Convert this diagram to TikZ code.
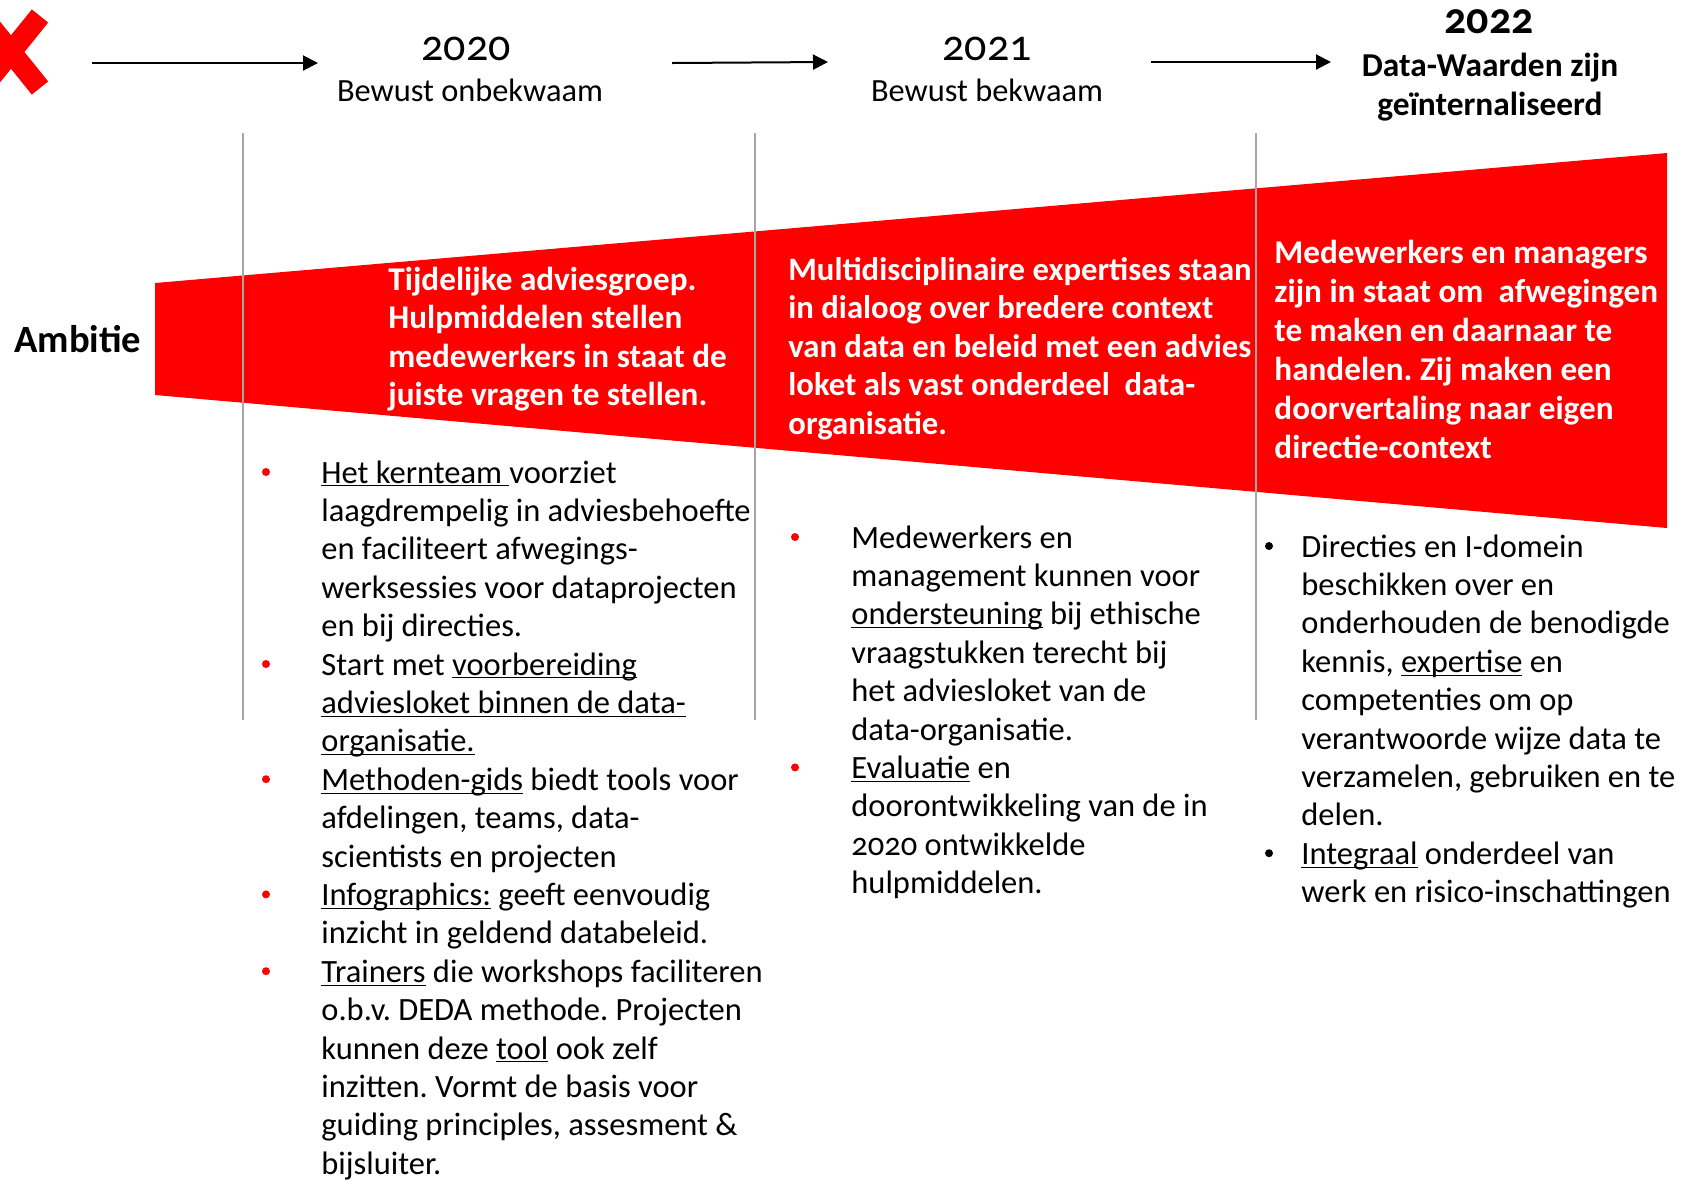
\documentclass[tikz,border=0pt]{standalone}
\usepackage{fontspec}
\setmainfont{Carlito}[Numbers=OldStyle]
\usetikzlibrary{arrows.meta}

\newcommand{\ulword}[1]{\underline{\smash{#1}}}
\frenchspacing

% multi-line nodes sit on the baseline of their last line
\tikzset{
  yearlabel/.style={anchor=base, inner sep=0pt, font=\fontsize{22}{26}\selectfont},
  phaselabel/.style={anchor=base, inner sep=0pt, align=center, font=\fontsize{16.2}{19.4}\selectfont},
  boxtext/.style={anchor=base west, inner sep=0pt, align=left, text=white, font=\bfseries\fontsize{16.6}{19.25}\selectfont},
  bodytext/.style={anchor=base west, inner sep=0pt, align=left, font=\fontsize{16.25}{19.2}\selectfont},
  divider/.style={draw=black!35, line width=0.75pt},
  steparrow/.style={line width=1pt, -{Triangle[length=7.5pt,width=7.5pt]}},
}

\begin{document}
\begin{tikzpicture}[x=0.5pt, y=-0.5pt]
\useasboundingbox (0,0) rectangle (1684,1180);

% ambitie band
\fill[red] (155,283) -- (1667,153) -- (1667,528) -- (155,395) -- cycle;

% period dividers
\foreach \x in {243,755,1256}
  \draw[divider] (\x,133) -- (\x,720);

% red cross, cut off at the left edge
\begin{scope}
  \clip (0,0) rectangle (1684,1180);
  \draw[red, line width=10.5pt] (-18,16) -- (40,88) (40,16) -- (-18,88);
\end{scope}

% timeline
\coordinate (a1from) at (92,63);
\coordinate (a1to) at (318,63);
\coordinate (a2from) at (672,63);
\coordinate (a2to) at (828,62);
\coordinate (a3from) at (1151,62);
\coordinate (a3to) at (1331,62);
\draw[steparrow] (a1from) -- (a1to);
\draw[steparrow] (a2from) -- (a2to);
\draw[steparrow] (a3from) -- (a3to);

\node[yearlabel] (y2020) at (466,60) {2020};
\node[phaselabel] (p2020) at (470,101) {Bewust onbekwaam};
\node[yearlabel] (y2021) at (987,60) {2021};
\node[phaselabel] (p2021) at (987,101) {Bewust bekwaam};
\node[yearlabel, font=\bfseries\fontsize{22}{26}\selectfont] (y2022) at (1489,33) {2022};
\node[phaselabel, font=\bfseries\fontsize{16.7}{19.4}\selectfont] (p2022) at (1490,115) {Data-Waarden zijn\\geïnternaliseerd};

\node[anchor=base west, inner sep=0pt, font=\bfseries\fontsize{19.3}{23}\selectfont] (ambitie) at (14,352) {Ambitie};

% ambitions per year
\node[boxtext] (amb2020) at (388,405.5) {Tijdelijke adviesgroep.\\Hulpmiddelen stellen\\medewerkers in staat de\\juiste vragen te stellen.};
\node[boxtext, font=\bfseries\fontsize{16.35}{19.25}\selectfont] (amb2021) at (788,434) {Multidisciplinaire expertises staan\\in dialoog over bredere context\\van data en beleid met een advies\\loket als vast onderdeel\ \ data-\\organisatie.};
\node[boxtext, font=\bfseries\fontsize{16.6}{19.5}\selectfont] (amb2022) at (1274,458) {Medewerkers en managers\\zijn in staat om\ \ afwegingen\\te maken en daarnaar te\\handelen. Zij maken een\\doorvertaling naar eigen\\directie-context};

% actions per year
\foreach \i in {0,5,8,11,13}
  \fill[red] (266,472+38.4*\i) circle[radius=4];
\node[bodytext] (act2020) at (321,1174.2) {\ulword{Het kernteam }voorziet\\laagdrempelig in adviesbehoefte\\en faciliteert afwegings-\\werksessies voor dataprojecten\\en bij directies.\\Start met \ulword{voorbereiding}\\\ulword{adviesloket binnen de data-}\\\ulword{organisatie.}\\\ulword{Methoden-gids} biedt tools voor\\afdelingen, teams, data-\\scientists en projecten\\\ulword{Infographics:} geeft eenvoudig\\inzicht in geldend databeleid.\\\ulword{Trainers} die workshops faciliteren\\o.b.v. DEDA methode. Projecten\\kunnen deze \ulword{tool} ook zelf\\inzitten. Vormt de basis voor\\guiding principles, assesment \&\\bijsluiter.};

\foreach \i in {0,6}
  \fill[red] (795,537+38.4*\i) circle[radius=4];
\node[bodytext] (act2021) at (851,893.6) {Medewerkers en\\management kunnen voor\\\ulword{ondersteuning} bij ethische\\vraagstukken terecht bij\\het adviesloket van de\\data-organisatie.\\\ulword{Evaluatie} en\\doorontwikkeling van de in\\2020 ontwikkelde\\hulpmiddelen.};

\foreach \i in {0,8}
  \fill[black] (1269,546+38.4*\i) circle[radius=4];
\node[bodytext] (act2022) at (1301,902.6) {Directies en I-domein\\beschikken over en\\onderhouden de benodigde\\kennis, \ulword{expertise} en\\competenties om op\\verantwoorde wijze data te\\verzamelen, gebruiken en te\\delen.\\\ulword{Integraal} onderdeel van\\werk en risico-inschattingen};

\end{tikzpicture}
\end{document}
